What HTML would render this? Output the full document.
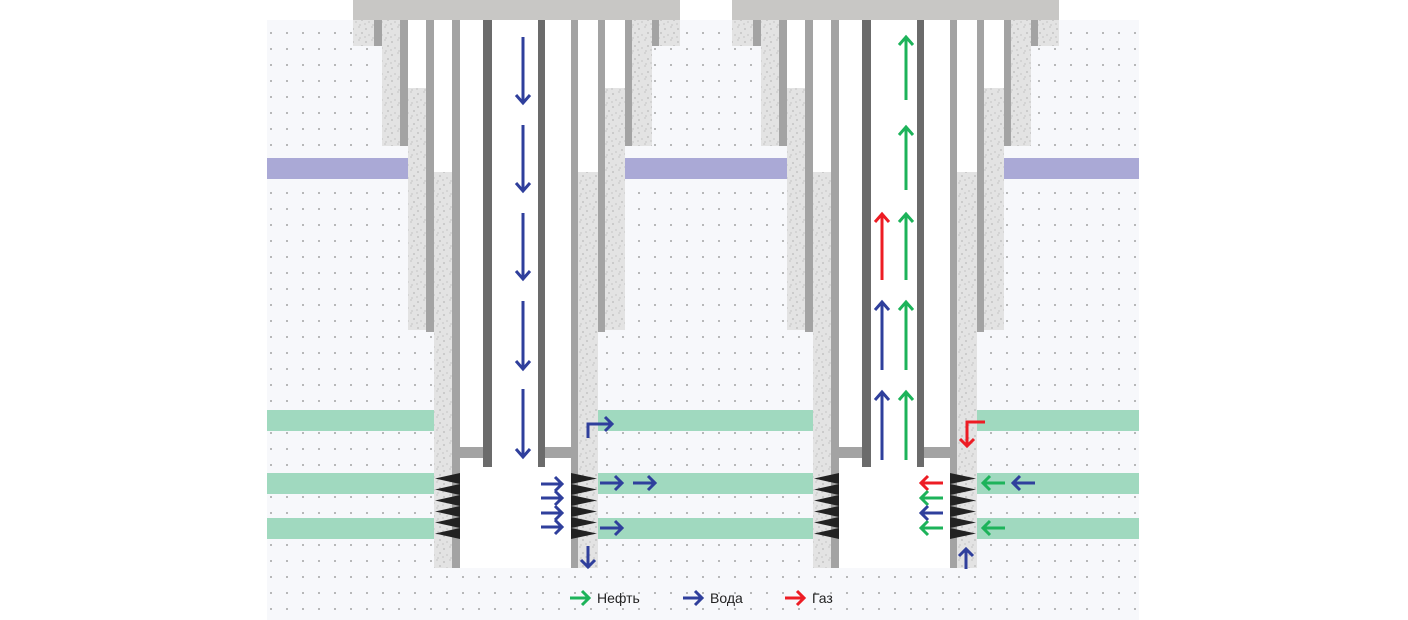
<!DOCTYPE html>
<html><head><meta charset="utf-8"><style>
html,body{margin:0;padding:0;background:#fff;}
svg{display:block;}
text{font-family:"Liberation Sans",sans-serif;font-size:14px;fill:#222;}
</style></head><body>
<svg width="1408" height="620" viewBox="0 0 1408 620" xmlns="http://www.w3.org/2000/svg">
<defs>
<pattern id="dots" x="0" y="0" width="16" height="16" patternUnits="userSpaceOnUse">
<rect width="16" height="16" fill="#f7f8fb"/>
<circle cx="15" cy="1" r="0.9" fill="#8a8a8a"/>
</pattern>
<pattern id="cem" x="0" y="0" width="13" height="13" patternUnits="userSpaceOnUse">
<rect width="13" height="13" fill="#e3e3e3"/>
<circle cx="2" cy="3" r="0.6" fill="#909090"/>
<circle cx="8" cy="1" r="0.5" fill="#909090"/>
<circle cx="11" cy="7" r="0.6" fill="#909090"/>
<circle cx="5" cy="9" r="0.5" fill="#909090"/>
<circle cx="9" cy="12" r="0.5" fill="#909090"/>
<circle cx="1" cy="11" r="0.5" fill="#909090"/>
</pattern>
<g id="well">
<rect x="353" y="0" width="327" height="20" fill="#c8c7c5"/>
<rect x="382" y="20" width="270" height="126" fill="#fff"/>
<rect x="374" y="20" width="285" height="26" fill="#fff"/>
<rect x="408" y="146" width="197" height="184" fill="#fff"/>
<rect x="434" y="330" width="164" height="238" fill="#fff"/>
<rect x="353" y="20" width="21" height="26" fill="url(#cem)"/>
<rect x="659" y="20" width="21" height="26" fill="url(#cem)"/>
<rect x="374" y="20" width="8" height="26" fill="#a3a3a3"/>
<rect x="652" y="20" width="7" height="26" fill="#a3a3a3"/>
<rect x="382" y="20" width="18" height="126" fill="url(#cem)"/>
<rect x="632" y="20" width="20" height="126" fill="url(#cem)"/>
<rect x="400" y="20" width="8" height="126" fill="#a3a3a3"/>
<rect x="625" y="20" width="7" height="126" fill="#a3a3a3"/>
<rect x="408" y="88" width="18" height="242" fill="url(#cem)"/>
<rect x="605" y="88" width="20" height="242" fill="url(#cem)"/>
<rect x="426" y="20" width="8" height="312" fill="#a3a3a3"/>
<rect x="598" y="20" width="7" height="312" fill="#a3a3a3"/>
<rect x="434" y="172" width="18" height="396" fill="url(#cem)"/>
<rect x="578" y="172" width="20" height="396" fill="url(#cem)"/>
<rect x="452" y="20" width="8" height="548" fill="#a3a3a3"/>
<rect x="571" y="20" width="7" height="548" fill="#a3a3a3"/>
<rect x="460" y="447" width="23" height="11" fill="#a3a3a3"/>
<rect x="545" y="447" width="26" height="11" fill="#a3a3a3"/>
<rect x="483" y="20" width="9" height="447" fill="#6b6b6b"/>
<rect x="538" y="20" width="7" height="447" fill="#6b6b6b"/>
<g fill="#222">
<polygon points="460,473 435,478.5 460,484"/><polygon points="460,484 435,489.5 460,495"/>
<polygon points="460,495 435,500.5 460,506"/><polygon points="460,506 435,511.5 460,517"/>
<polygon points="460,517 435,522.5 460,528"/><polygon points="460,528 435,533.5 460,539"/>
<polygon points="571,473 597,478.5 571,484"/><polygon points="571,484 597,489.5 571,495"/>
<polygon points="571,495 597,500.5 571,506"/><polygon points="571,506 597,511.5 571,517"/>
<polygon points="571,517 597,522.5 571,528"/><polygon points="571,528 597,533.5 571,539"/>
</g>
</g>
</defs>
<rect x="267" y="20" width="872" height="600" fill="url(#dots)"/>
<g fill="#aaa9d6">
<rect x="267" y="158" width="141" height="21"/>
<rect x="624" y="158" width="163" height="21"/>
<rect x="1003" y="158" width="136" height="21"/>
</g>
<g fill="#a0d9bf">
<rect x="267" y="410" width="167" height="21"/><rect x="267" y="473" width="167" height="21"/><rect x="267" y="518" width="167" height="21"/>
<rect x="597" y="410" width="216" height="21"/><rect x="597" y="473" width="216" height="21"/><rect x="597" y="518" width="216" height="21"/>
<rect x="976" y="410" width="163" height="21"/><rect x="976" y="473" width="163" height="21"/><rect x="976" y="518" width="163" height="21"/>
</g>
<use href="#well"/>
<use href="#well" transform="translate(379,0)"/>
<g fill="none" stroke-width="3" stroke-linecap="butt" stroke-linejoin="miter">
<path stroke="#2f3f9c" d="M523 37V103M516 95L523 103L530 95 M523 125V191M516 183L523 191L530 183 M523 213V279M516 271L523 279L530 271 M523 301V369M516 361L523 369L530 361 M523 389V457M516 449L523 457L530 449"/>
<path stroke="#2f3f9c" d="M541 484H562M555 477L562 484L555 491 M541 498H562M555 491L562 498L555 505 M541 513H562M555 506L562 513L555 520 M541 527H562M555 520L562 527L555 534"/>
<path stroke="#2f3f9c" d="M588 438V424H612M605 417L612 424L605 431 M600 483H622M615 476L622 483L615 490 M633 483H655M648 476L655 483L648 490 M600 528H622M615 521L622 528L615 535 M588 546V567M581 560L588 567L595 560"/>
<path stroke="#1db35a" d="M906 100V37M899 45L906 37L913 45 M906 190V127M899 135L906 127L913 135 M906 280V214M899 222L906 214L913 222 M906 370V302M899 310L906 302L913 310 M906 460V392M899 400L906 392L913 400"/>
<path stroke="#2f3f9c" d="M882 370V302M875 310L882 302L889 310 M882 460V392M875 400L882 392L889 400"/>
<path stroke="#ed1c24" d="M882 280V214M875 222L882 214L889 222"/>
<path stroke="#ed1c24" d="M921 483H943M928 476L921 483L928 490 M985 422H967V446M960 439L967 446L974 439"/>
<path stroke="#1db35a" d="M921 498H943M928 491L921 498L928 505 M921 528H943M928 521L921 528L928 535 M983 483H1005M990 476L983 483L990 490 M983 528H1005M990 521L983 528L990 535"/>
<path stroke="#2f3f9c" d="M921 513H943M928 506L921 513L928 520 M1013 483H1035M1020 476L1013 483L1020 490 M966 569V549M959 556L966 549L973 556"/>
<path stroke="#1db35a" d="M570 598H589M582 591L589 598L582 605"/>
<path stroke="#2f3f9c" d="M683 598H702M695 591L702 598L695 605"/>
<path stroke="#ed1c24" d="M785 598H804M797 591L804 598L797 605"/>
</g>
<text x="597" y="603">Нефть</text>
<text x="710" y="603">Вода</text>
<text x="812" y="603">Газ</text>
</svg>
</body></html>
